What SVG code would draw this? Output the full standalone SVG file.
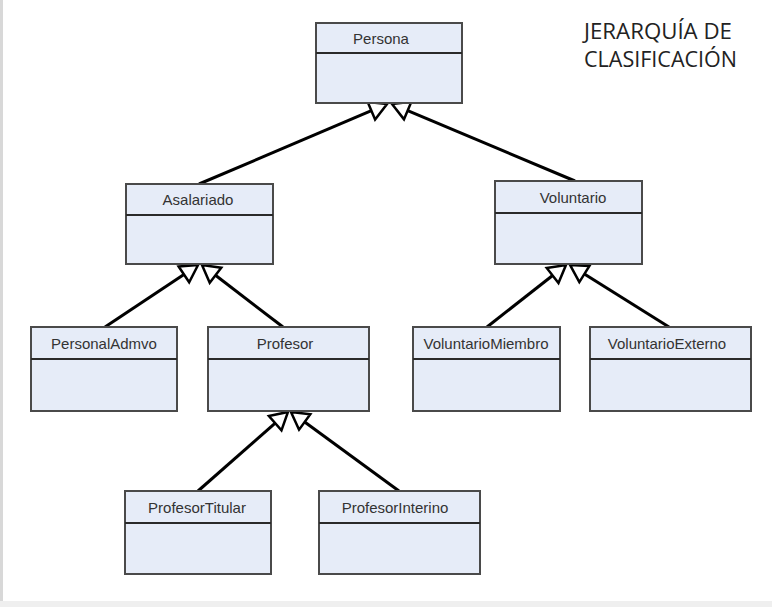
<svg xmlns="http://www.w3.org/2000/svg" width="772" height="607" viewBox="0 0 772 607">
<style>
.box{fill:#e6ecf8;stroke:#4a4a4a;stroke-width:2}
.div{stroke:#2a2a2a;stroke-width:2}
.lbl{font-family:"Liberation Sans",Arial,sans-serif;font-size:15px;fill:#333;text-anchor:middle}
.title{font-family:"Open Sans","Noto Sans",sans-serif;font-size:21px;fill:#222}
.conn line{stroke:#000;stroke-width:3;marker-end:url(#gen)}
</style>
<defs>
<marker id="gen" markerUnits="userSpaceOnUse" viewBox="-3 -12 24 24" markerWidth="24" markerHeight="24" refX="0" refY="0" orient="auto">
<path d="M0,-9.5 L17,0 L0,9.5 Z" fill="#fff" stroke="#000" stroke-width="2.5" stroke-linejoin="miter"/>
</marker>
</defs>
<rect x="0" y="0" width="772" height="607" fill="#fff"/>
<rect x="0" y="0" width="3" height="602" fill="#d8d8d8"/>
<rect x="0" y="601" width="772" height="6" fill="#efefef"/>
<g id="title">
<text class="title" x="584" y="39" textLength="148" lengthAdjust="spacingAndGlyphs">JERARQUÍA DE</text>
<text class="title" x="584" y="67" textLength="153" lengthAdjust="spacingAndGlyphs">CLASIFICACIÓN</text>
</g>
<g id="connectors" class="conn">
<line x1="199" y1="184" x2="371.4" y2="110.7"/>
<line x1="575" y1="181" x2="407.7" y2="110.6"/>
<line x1="105" y1="327" x2="183.9" y2="274.4"/>
<line x1="283" y1="327" x2="215.5" y2="275.3"/>
<line x1="487" y1="327" x2="552.6" y2="275.5"/>
<line x1="669" y1="327" x2="584.4" y2="274"/>
<line x1="198" y1="491" x2="275.2" y2="423.2"/>
<line x1="399" y1="491" x2="304.7" y2="422"/>
</g>
<g id="Persona">
<rect class="box" x="316" y="23" width="146" height="80"/>
<line class="div" x1="316" y1="53" x2="462" y2="53"/>
<text class="lbl" x="381" y="44">Persona</text>
</g>
<g id="Asalariado">
<rect class="box" x="126" y="184" width="147" height="80"/>
<line class="div" x1="126" y1="215" x2="273" y2="215"/>
<text class="lbl" x="198" y="205">Asalariado</text>
</g>
<g id="Voluntario">
<rect class="box" x="495" y="181" width="147" height="83"/>
<line class="div" x1="495" y1="213" x2="642" y2="213"/>
<text class="lbl" x="573" y="203">Voluntario</text>
</g>
<g id="PersonalAdmvo">
<rect class="box" x="31" y="327" width="146" height="84"/>
<line class="div" x1="31" y1="359" x2="177" y2="359"/>
<text class="lbl" x="104" y="349">PersonalAdmvo</text>
</g>
<g id="Profesor">
<rect class="box" x="208" y="327" width="161" height="84"/>
<line class="div" x1="208" y1="359" x2="369" y2="359"/>
<text class="lbl" x="285" y="349">Profesor</text>
</g>
<g id="VoluntarioMiembro">
<rect class="box" x="413" y="327" width="147" height="84"/>
<line class="div" x1="413" y1="359" x2="560" y2="359"/>
<text class="lbl" x="486" y="349">VoluntarioMiembro</text>
</g>
<g id="VoluntarioExterno">
<rect class="box" x="590" y="327" width="161" height="84"/>
<line class="div" x1="590" y1="359" x2="751" y2="359"/>
<text class="lbl" x="667" y="349">VoluntarioExterno</text>
</g>
<g id="ProfesorTitular">
<rect class="box" x="125" y="491" width="146" height="83"/>
<line class="div" x1="125" y1="523" x2="271" y2="523"/>
<text class="lbl" x="197" y="513">ProfesorTitular</text>
</g>
<g id="ProfesorInterino">
<rect class="box" x="319" y="491" width="161" height="83"/>
<line class="div" x1="319" y1="523" x2="480" y2="523"/>
<text class="lbl" x="395" y="513">ProfesorInterino</text>
</g>
</svg>
